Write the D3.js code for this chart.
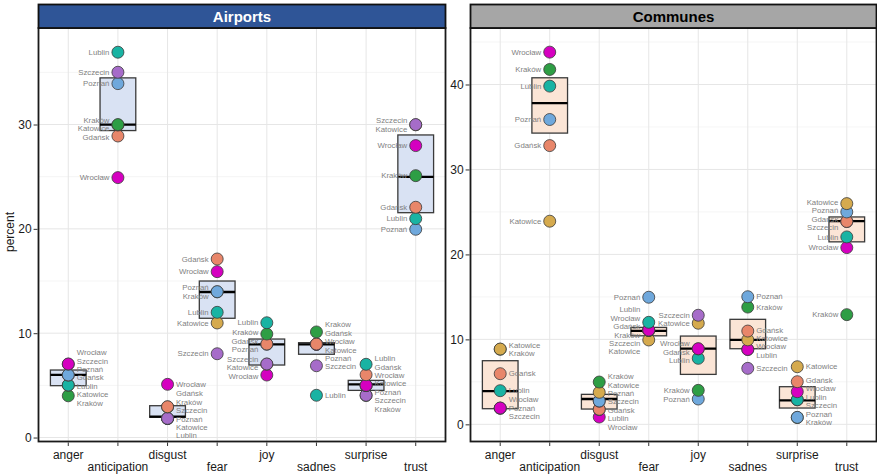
<!DOCTYPE html>
<html><head><meta charset="utf-8">
<script src="https://cdn.jsdelivr.net/npm/d3@7"></script>
<style>body{margin:0;background:#fff}svg{display:block}</style>
</head><body><svg id="chart" width="877" height="476"></svg>
<script>
const categories = ["anger","anticipation","disgust","fear","joy","sadnes","surprise","trust"];
const cities = ["Gdańsk","Katowice","Kraków","Lublin","Poznań","Szczecin","Wrocław"];
const cityColors = ["#E8866A","#D5AA4E","#2E9E45","#19B3A3","#6FA8DC","#A66CC9","#D500C0"];

// Airports: one row per city, one value (percent) per category
const airportValues = [
  [5.98, 28.9, 2.95, 17.11, 8.96, 8.96, 6.02, 22.07],   // Gdańsk
  [5.01, 29.95, 1.82, 10.98, 7.03, 8.94, 4.98, 29.97],  // Katowice
  [4.0, 29.99, 2.93, 13.96, 9.92, 10.12, 4.03, 25.1],   // Kraków
  [5.03, 36.93, 1.82, 12.0, 11.0, 4.05, 7.02, 20.98],   // Lublin
  [6.0, 33.92, 1.83, 13.98, 8.94, 8.94, 4.98, 19.96],   // Poznań
  [7.03, 35.01, 1.84, 8.03, 7.05, 6.88, 4.05, 29.99],   // Szczecin
  [7.05, 24.91, 5.1, 15.9, 5.99, 8.95, 5.0, 27.98]      // Wrocław
];
const airportBoxLow  = [4.97, 29.42, 1.94, 11.43, 6.95, 7.98, 4.52, 21.55];
const airportBoxMid  = [6.0, 29.99, 2.0, 13.95, 8.93, 8.93, 5.1, 24.98];
const airportBoxHigh = [6.47, 34.47, 3.05, 15.0, 9.44, 9.09, 5.48, 29.0];
const airportTicks = [0, 10, 20, 30];

// Communes
const communeValues = [
  [5.96, 32.81, 1.77, 11.07, 8.88, 10.98, 5.02, 23.88],  // Gdańsk
  [8.86, 23.91, 3.77, 9.93, 11.9, 9.95, 6.78, 25.98],    // Katowice
  [8.84, 41.77, 4.98, 11.06, 4.0, 13.8, 0.8, 12.91],     // Kraków
  [3.96, 39.81, 1.75, 12.01, 7.77, 8.8, 2.9, 22.06],     // Lublin
  [1.9, 35.88, 2.75, 14.96, 2.98, 15.02, 0.82, 25.0],    // Poznań
  [1.9, null, 2.73, 11.05, 12.84, 6.59, 2.88, 23.86],    // Szczecin
  [1.92, 43.81, 0.86, 11.1, 8.9, 8.82, 3.84, 20.8]       // Wrocław
];
const communeBoxLow  = [1.84, 34.28, 1.8, 10.42, 5.88, 8.9, 1.92, 21.48];
const communeBoxMid  = [3.92, 37.81, 2.98, 11.01, 8.9, 9.95, 2.83, 23.93];
const communeBoxHigh = [7.49, 40.79, 3.53, 11.41, 10.39, 12.36, 4.43, 24.41];
const communeTicks = [0, 10, 20, 30, 40];

const labelSide = ["right","left","right","left","left","right","right","left"];

const svg = d3.select("#chart");
const font = "Liberation Sans, Arial, Helvetica, sans-serif";
const stripTop = 4.5, panelTop = 28, panelBottom = 441.5;

const panels = [
  {title:"Airports", x0:38.5, x1:445.5, values:airportValues, low:airportBoxLow, mid:airportBoxMid, high:airportBoxHigh,
   ticks:airportTicks, domain:[-0.38, 39.25], stripFill:"#2F5597", titleColor:"#ffffff", boxFill:"#D9E2F3"},
  {title:"Communes", x0:470.5, x1:876.5, values:communeValues, low:communeBoxLow, mid:communeBoxMid, high:communeBoxHigh,
   ticks:communeTicks, domain:[-2.02, 46.65], stripFill:"#A6A6A6", titleColor:"#000000", boxFill:"#FBE5D6"}
];

function spread(items, gap){
  items.sort((a,b)=>a.ty-b.ty);
  items.forEach(d=>d.ly=d.ty);
  for(let it=0; it<400; it++){
    let moved=false;
    for(let i=1;i<items.length;i++){
      const ov = items[i-1].ly + gap - items[i].ly;
      if(ov>0.01){ items[i-1].ly -= ov/2; items[i].ly += ov/2; moved=true; }
    }
    if(!moved) break;
  }
}

panels.forEach(p=>{
  const x = d3.scalePoint().domain(categories).range([p.x0, p.x1]).padding(0.6);
  const y = d3.scaleLinear().domain(p.domain).range([panelBottom, panelTop]);
  const g = svg.append("g");
  const step = x.step();

  // grid
  const minor = d3.range(5, p.domain[1], 10);
  g.append("g").selectAll("line").data(minor).join("line")
    .attr("x1",p.x0).attr("x2",p.x1).attr("y1",d=>y(d)).attr("y2",d=>y(d))
    .attr("stroke","#F2F2F2").attr("stroke-width",0.8);
  g.append("g").selectAll("line").data(p.ticks).join("line")
    .attr("x1",p.x0).attr("x2",p.x1).attr("y1",d=>y(d)).attr("y2",d=>y(d))
    .attr("stroke","#E6E6E6").attr("stroke-width",1);
  g.append("g").selectAll("line").data(categories).join("line")
    .attr("x1",d=>x(d)).attr("x2",d=>x(d)).attr("y1",panelTop).attr("y2",panelBottom)
    .attr("stroke","#E6E6E6").attr("stroke-width",1);

  // boxes
  const bw = step*0.72;
  g.append("g").selectAll("rect").data(categories).join("rect")
    .attr("x",d=>x(d)-bw/2).attr("width",bw)
    .attr("y",(d,i)=>y(p.high[i])).attr("height",(d,i)=>y(p.low[i])-y(p.high[i]))
    .attr("fill",p.boxFill).attr("stroke","#3a3a3a").attr("stroke-width",1.3);
  g.append("g").selectAll("line").data(categories).join("line")
    .attr("x1",d=>x(d)-bw/2).attr("x2",d=>x(d)+bw/2)
    .attr("y1",(d,i)=>y(p.mid[i])).attr("y2",(d,i)=>y(p.mid[i]))
    .attr("stroke","#000").attr("stroke-width",2.3);

  // points + labels
  const pts = [];
  categories.forEach((c,ci)=>{
    const group = [];
    cities.forEach((city,k)=>{
      const v = p.values[k][ci];
      if(v==null) return;
      const d = {cat:c, ci, city, k, v, px:x(c), ty:y(v)};
      group.push(d); pts.push(d);
    });
    spread(group, 8.4);
  });

  g.append("g").selectAll("text").data(pts).join("text")
    .attr("x",d=> labelSide[d.ci]==="right" ? d.px+8.5 : d.px-8.5)
    .attr("y",d=>d.ly).attr("dy","0.35em")
    .attr("text-anchor",d=> labelSide[d.ci]==="right" ? "start":"end")
    .attr("font-family",font).attr("font-size",7.8).attr("fill","#7f7f7f")
    .text(d=>d.city);

  const ordered = pts.slice().sort((a,b)=>a.v-b.v);
  g.append("g").selectAll("circle").data(ordered).join("circle")
    .attr("cx",d=>d.px).attr("cy",d=>y(d.v)).attr("r",6)
    .attr("fill",d=>cityColors[d.k]).attr("stroke","#3a3a3a").attr("stroke-width",0.8);

  // panel border
  g.append("rect").attr("x",p.x0).attr("y",panelTop).attr("width",p.x1-p.x0).attr("height",panelBottom-panelTop)
    .attr("fill","none").attr("stroke","#1a1a1a").attr("stroke-width",1.8);
  // strip
  g.append("rect").attr("x",p.x0).attr("y",stripTop).attr("width",p.x1-p.x0).attr("height",panelTop-stripTop)
    .attr("fill",p.stripFill).attr("stroke","#111").attr("stroke-width",1.8);
  g.append("text").attr("x",(p.x0+p.x1)/2).attr("y",(stripTop+panelTop)/2).attr("dy","0.36em")
    .attr("text-anchor","middle").attr("font-family",font).attr("font-weight","bold").attr("font-size",15)
    .attr("fill",p.titleColor).text(p.title);

  // y axis
  const ya = g.append("g").attr("transform",`translate(${p.x0-0.9},0)`)
    .call(d3.axisLeft(y).tickValues(p.ticks).tickSize(4).tickPadding(2));
  ya.select(".domain").remove();
  ya.selectAll("line").attr("stroke","#333");
  ya.selectAll("text").attr("font-family",font).attr("font-size",12).attr("fill","#1a1a1a");

  // x axis (two staggered rows)
  g.append("g").selectAll("line").data(categories).join("line")
    .attr("x1",d=>x(d)).attr("x2",d=>x(d)).attr("y1",panelBottom+0.9).attr("y2",panelBottom+4.5)
    .attr("stroke","#333");
  g.append("g").selectAll("text").data(categories).join("text")
    .attr("x",d=>x(d)).attr("y",(d,i)=> i%2===0 ? 458.5 : 470.5)
    .attr("text-anchor","middle").attr("font-family",font).attr("font-size",12).attr("fill","#1a1a1a")
    .text(d=>d);
});

svg.append("text").attr("transform","translate(14,232) rotate(-90)")
  .attr("text-anchor","middle").attr("font-family",font).attr("font-size",12).attr("fill","#1a1a1a")
  .text("percent");
</script></body></html>
